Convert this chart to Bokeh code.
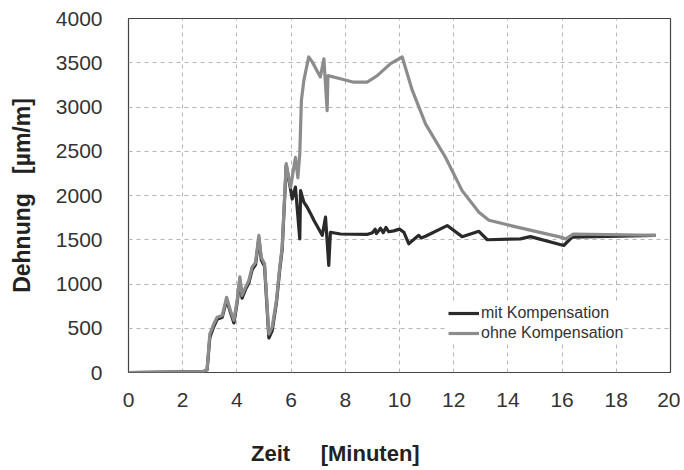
from bokeh.plotting import figure
from bokeh.models import Legend, LegendItem, ColumnDataSource
from bokeh.embed import file_html
from bokeh.resources import INLINE

# --- data ---
x_ohne = [0, 2.75, 2.9, 3.0, 3.05, 3.15, 3.27, 3.46, 3.62, 3.76, 3.89, 4.01, 4.11, 4.19,
          4.32, 4.44, 4.56, 4.69, 4.81, 4.9, 5.02, 5.18, 5.3, 5.46, 5.58, 5.67, 5.82,
          5.98, 6.16, 6.25, 6.32, 6.38, 6.47, 6.65, 6.78, 7.08, 7.21, 7.33, 7.36, 7.82,
          8.31, 8.8, 9.18, 9.67, 10.1, 10.47, 10.96, 11.7, 12.31, 12.93, 13.3, 14.1,
          15.94, 16.13, 16.43, 19.45]
y_ohne = [0, 10, 30, 435, 470, 550, 625, 645, 850, 700, 590, 815, 1080, 870,
          965, 1040, 1190, 1245, 1550, 1300, 1230, 435, 510, 815, 1190, 1415, 2360,
          2090, 2430, 2200, 2470, 3075, 3300, 3565, 3510, 3340, 3545, 2960, 3355, 3320,
          3280, 3280, 3355, 3490, 3565, 3190, 2810, 2430, 2055, 1810, 1720, 1660,
          1530, 1510, 1565, 1550]

x_mit = [0, 2.75, 2.9, 3.0, 3.05, 3.15, 3.27, 3.46, 3.62, 3.76, 3.89, 4.01, 4.11, 4.19,
         4.32, 4.44, 4.56, 4.69, 4.81, 4.9, 5.02, 5.18, 5.3, 5.46, 5.58, 5.67, 5.82,
         5.98, 6.04, 6.16, 6.32, 6.35, 6.47, 6.59, 6.72, 6.84, 7.15, 7.27, 7.39, 7.45,
         7.82, 8.8, 9.0, 9.1, 9.15, 9.3, 9.4, 9.5, 9.6, 9.79, 10.0, 10.16, 10.34,
         10.71, 10.8, 10.96, 11.76, 12.31, 12.93, 13.24, 14.46, 14.83, 16.06, 16.37,
         19.45]
y_mit = [0, 10, 30, 390, 440, 520, 600, 625, 820, 680, 560, 790, 1050, 840,
         940, 1010, 1160, 1220, 1520, 1270, 1200, 390, 470, 790, 1160, 1390, 2340,
         2070, 1960, 2095, 1510, 2055, 1925, 1870, 1795, 1720, 1550, 1755, 1210, 1585,
         1565, 1560, 1580, 1620, 1570, 1630, 1580, 1640, 1590, 1600, 1620, 1585, 1455,
         1550, 1520, 1540, 1660, 1535, 1595, 1500, 1510, 1535, 1435, 1530,
         1550]

x_ticks = [0, 2, 4, 6, 8, 10, 12, 14, 16, 18, 20]
y_ticks = [0, 500, 1000, 1500, 2000, 2500, 3000, 3500, 4000]

FONT = "Liberation Sans"
NB = "\u00a0"

p = figure(width=680, height=468, x_range=(0, 20), y_range=(0, 4000),
           output_backend="svg", toolbar_location=None,
           min_border_left=128, min_border_right=10, min_border_top=18,
           min_border_bottom=96)
p.background_fill_color = "white"
p.border_fill_color = "white"
p.outline_line_color = "#444444"
p.outline_line_width = 1.2

p.xaxis.ticker = x_ticks
p.yaxis.ticker = y_ticks
for ax in (p.xaxis, p.yaxis):
    ax.axis_line_color = None
    ax.major_tick_line_color = None
    ax.minor_tick_line_color = None
    ax.major_label_text_font = FONT
    ax.major_label_text_font_size = "21px"
    ax.major_label_text_color = "#333333"
    ax.axis_label_text_font = FONT
    ax.axis_label_text_font_style = "bold"
    ax.axis_label_text_color = "#222222"
p.xaxis.major_label_standoff = 14
p.yaxis.major_label_standoff = 20

p.yaxis.axis_label = "Dehnung" + NB * 3 + "[\u00b5m/m]"
p.yaxis.axis_label_text_font_size = "23px"
p.yaxis.axis_label_standoff = 18

# x label sits left of the frame centre in the original; trailing no-break
# spaces shift the centred axis label to that position
p.xaxis.axis_label = "Zeit" + NB * 5 + "[Minuten]" + NB * 21
p.xaxis.axis_label_text_font_size = "22px"
p.xaxis.axis_label_standoff = 31

for g in (p.xgrid, p.ygrid):
    g.grid_line_color = "#b5b5b5"
    g.grid_line_dash = "4 4"
    g.grid_line_width = 1

src_mit = ColumnDataSource(dict(x=x_mit, y=y_mit))
src_ohne = ColumnDataSource(dict(x=x_ohne, y=y_ohne))
r_mit = p.line("x", "y", source=src_mit, line_color="#2a2a2a", line_width=3.2,
               line_join="round")
r_ohne = p.line("x", "y", source=src_ohne, line_color="#8c8c8c", line_width=3.2,
                line_join="round")

legend = Legend(items=[LegendItem(label="mit Kompensation", renderers=[r_mit]),
                       LegendItem(label="ohne Kompensation", renderers=[r_ohne])],
                location=(320, 29), border_line_color=None,
                background_fill_color="white", background_fill_alpha=1,
                padding=0, margin=0, spacing=0, label_standoff=2,
                glyph_width=31, glyph_height=20, label_height=20,
                label_text_font=FONT, label_text_font_size="16px",
                label_text_color="#333333")
p.add_layout(legend)

open("out.html", "w").write(file_html(p, INLINE))
